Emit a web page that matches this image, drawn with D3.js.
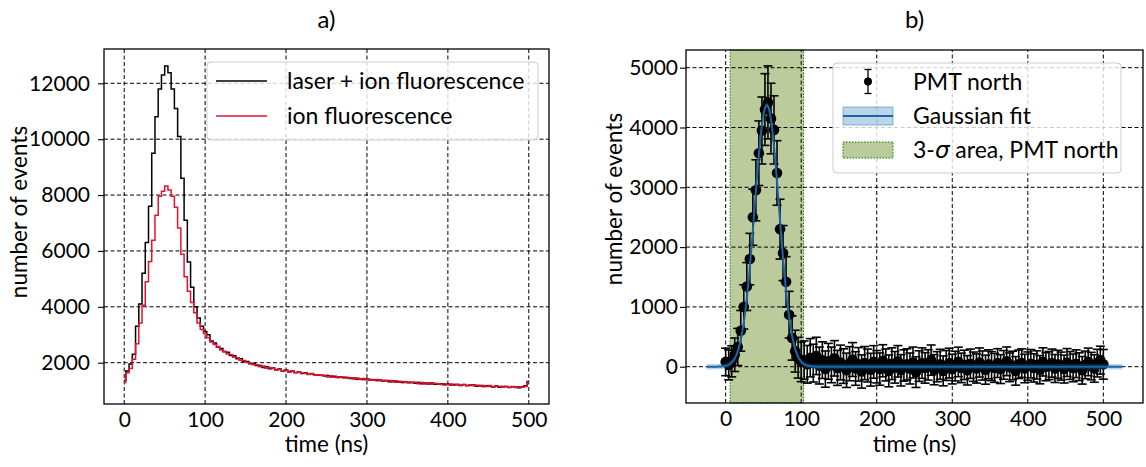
<!DOCTYPE html>
<html>
<head>
<meta charset="utf-8">
<script src="https://cdn.jsdelivr.net/npm/d3@7"></script>
<style>
  body { margin: 0; background: #fff; }
</style>
</head>
<body>
<svg id="fig" width="1146" height="467"></svg>
<script>
// bin centres, 4 ns apart, 0 .. 500 ns
var time = d3.range(0, 501, 4);

// a) photon counts per bin
var laserIon = [1370, 1700, 1950, 2300, 3300, 4100, 5200, 6300, 7600, 9500, 10800, 11800, 12300, 12620, 12380, 11800, 11100, 10100, 8600, 7100, 5600, 4700, 4000, 3600, 3300, 3120, 3000, 2780,
  2700, 2560, 2510, 2390, 2370, 2260, 2250, 2140, 2140, 2050,
  2040, 1960, 1960, 1900, 1900, 1830, 1850, 1780, 1810, 1750,
  1770, 1700, 1740, 1680, 1690, 1650, 1670, 1610, 1640, 1590,
  1600, 1570, 1560, 1550, 1520, 1540, 1500, 1510, 1470, 1490,
  1460, 1470, 1430, 1450, 1410, 1420, 1400, 1420, 1380, 1390,
  1360, 1380, 1340, 1360, 1320, 1340, 1310, 1330, 1290, 1310,
  1280, 1300, 1260, 1290, 1250, 1270, 1240, 1270, 1230, 1240,
  1250, 1210, 1240, 1200, 1220, 1210, 1180, 1220, 1180, 1190,
  1200, 1160, 1180, 1150, 1170, 1160, 1130, 1160, 1120, 1150,
  1140, 1110, 1140, 1130, 1100, 1140, 1170, 1330];

var ionOnly = [1290, 1640, 1790, 2120, 2680, 3420, 4060, 4900, 5620, 6380, 7280, 7960, 8140, 8320, 8180, 7960, 7560, 6820, 5880, 5080, 4560, 4150, 3790, 3420, 3190, 3040, 2890, 2740,
  2650, 2580, 2450, 2410, 2310, 2290, 2190, 2180, 2090, 2080,
  2010, 1990, 1930, 1930, 1850, 1880, 1800, 1830, 1790, 1740,
  1760, 1710, 1730, 1660, 1700, 1640, 1660, 1630, 1620, 1580,
  1610, 1560, 1570, 1540, 1550, 1490, 1530, 1480, 1500, 1470,
  1490, 1440, 1460, 1420, 1450, 1400, 1430, 1390, 1410, 1370,
  1400, 1350, 1370, 1340, 1360, 1310, 1350, 1300, 1330, 1290,
  1310, 1280, 1300, 1250, 1290, 1240, 1280, 1230, 1260, 1250,
  1220, 1250, 1210, 1240, 1190, 1230, 1200, 1210, 1170, 1210,
  1170, 1190, 1160, 1180, 1150, 1180, 1140, 1170, 1150, 1130,
  1160, 1120, 1150, 1110, 1140, 1120, 1150, 1300];

// b) PMT north, laser part only, with errors
var pmtNorth = [80, 30, 90, 200, 330, 600, 1000, 1340, 1800, 2500, 2950, 3570, 3950, 4300, 4420, 4150, 3960, 3240, 2300, 1900, 1420, 870, 480, 260, 150, 80, 110, 40,
  150, 60, 180, 20, 110, -40, 90, 30, 140, -20,
  70, 10, -60, 50, 120, -30, 40, -80, 60, 20,
  -50, 80, 0, -40, 100, 30, -70, 50, -10, 90,
  -60, 20, 40, -30, 70, -90, 10, 60, -20, 30,
  110, -50, 0, 40, -70, 20, 60, -40, 10, 80,
  -20, 30, -60, 50, 0, -30, 70, 20, -50, 40,
  10, -20, 60, -40, 30, 90, -10, 20, -70, 40,
  60, -30, 10, 50, -20, 30, -50, 80, 0, 20,
  60, -30, 40, 10, -40, 70, 20, -20, 50, 0,
  -60, 30, 80, 10, -30, 60, 110, 40];

var pmtErr = [230, 250, 260, 280, 310, 340, 370, 400, 430, 470, 510, 540, 560, 600, 610, 590, 570, 540, 500, 460, 420, 390, 370, 350, 340, 330, 320, 315,
  320, 316, 312, 309, 306, 303, 300, 298, 296, 293,
  291, 289, 287, 285, 283, 281, 280, 278, 277, 275,
  274, 272, 271, 270, 268, 267, 266, 265, 264, 263,
  262, 261, 260, 259, 258, 257, 256, 255, 255, 254,
  253, 252, 252, 251, 250, 250, 249, 248, 248, 247,
  247, 246, 246, 245, 245, 244, 244, 243, 243, 242,
  242, 242, 241, 241, 240, 240, 240, 239, 239, 238,
  238, 238, 237, 237, 237, 236, 236, 236, 235, 235,
  235, 234, 234, 234, 233, 233, 233, 232, 232, 232,
  231, 231, 231, 230, 230, 231, 233, 248];

// gaussian fit result and the 3-sigma window
var fitAmp = 4376, fitMu = 54.5, fitSigma = 16.2;
var fitRange = [-25, 525];
var sigmaArea = [5.9, 103.1];

var xTicks = [0, 100, 200, 300, 400, 500];
var yTicksA = [2000, 4000, 6000, 8000, 10000, 12000];
var yTicksB = [0, 1000, 2000, 3000, 4000, 5000];

var font = 'Lato, "Open Sans", sans-serif';
var svg = d3.select('#fig');

function grid(g, x, y) {
  var y0 = y.range()[0], y1 = y.range()[1], x0 = x.range()[0], x1 = x.range()[1];
  g.append('g').selectAll('line').data(x.ticksUsed).join('line')
    .attr('x1', d => x(d)).attr('x2', d => x(d)).attr('y1', y0).attr('y2', y1);
  g.append('g').selectAll('line').data(y.ticksUsed).join('line')
    .attr('y1', d => y(d)).attr('y2', d => y(d)).attr('x1', x0).attr('x2', x1);
  g.selectAll('line').attr('stroke', '#000').attr('stroke-width', 1).attr('stroke-dasharray', '4,2.5');
}

function axes(g, x, y, yPad) {
  var ax = g.append('g').attr('transform', 'translate(0,' + y.range()[0] + ')')
    .call(d3.axisBottom(x).tickValues(x.ticksUsed).tickSize(0).tickPadding(8).tickFormat(d3.format('d')));
  var ay = g.append('g').attr('transform', 'translate(' + x.range()[0] + ',0)')
    .call(d3.axisLeft(y).tickValues(y.ticksUsed).tickSize(6).tickPadding(yPad).tickFormat(d3.format('d')));
  [ax, ay].forEach(function(a) {
    a.select('.domain').remove();
    a.attr('font-family', font).attr('font-size', 21);
    a.selectAll('text').attr('fill', '#000');
    a.selectAll('line').attr('stroke', '#000').attr('stroke-width', 1.1);
  });
  g.append('rect')
    .attr('x', x.range()[0]).attr('y', y.range()[1])
    .attr('width', x.range()[1] - x.range()[0]).attr('height', y.range()[0] - y.range()[1])
    .attr('fill', 'none').attr('stroke', '#000').attr('stroke-width', 1.3);
}

function labels(g, x, title, ylabX, ylabY) {
  var cx = (x.range()[0] + x.range()[1]) / 2;
  g.append('text').attr('x', cx).attr('y', 28).attr('text-anchor', 'middle')
    .attr('font-family', font).attr('font-size', 24).text(title);
  g.append('text').attr('x', cx).attr('y', 452).attr('text-anchor', 'middle')
    .attr('font-family', font).attr('font-size', 22.5).text('time (ns)');
  g.append('text').attr('transform', 'translate(' + ylabX + ',' + ylabY + ') rotate(-90)')
    .attr('text-anchor', 'middle').attr('dy', '0.35em')
    .attr('font-family', font).attr('font-size', 22.5).text('number of events');
}

function legendFrame(g, x, y, w, h) {
  g.append('rect').attr('x', x).attr('y', y).attr('width', w).attr('height', h)
    .attr('rx', 4).attr('fill', '#fff').attr('fill-opacity', 0.8)
    .attr('stroke', '#cccccc').attr('stroke-width', 1);
}

// ---------- panel a ----------
var xA = d3.scaleLinear().domain([-25, 525]).range([104, 549]);
var yA = d3.scaleLinear().domain([521, 13228]).range([404, 49]);
xA.ticksUsed = xTicks; yA.ticksUsed = yTicksA;

var gA = svg.append('g');
gA.append('clipPath').attr('id', 'clipA').append('rect')
  .attr('x', 104).attr('y', 49).attr('width', 445).attr('height', 355);
grid(gA.append('g'), xA, yA);

var stepA = d3.line().x((d, i) => xA(time[i])).y(d => yA(d)).curve(d3.curveStep);
var plotA = gA.append('g').attr('clip-path', 'url(#clipA)');
plotA.append('path').attr('d', stepA(laserIon)).attr('fill', 'none')
  .attr('stroke', '#000').attr('stroke-width', 1.5);
plotA.append('path').attr('d', stepA(ionOnly)).attr('fill', 'none')
  .attr('stroke', '#e8112d').attr('stroke-width', 1.5);

axes(gA, xA, yA, 8);
labels(gA, xA, 'a)', 19, 212);

legendFrame(gA, 207, 62, 331, 78);
[['laser + ion fluorescence', '#000', 81], ['ion fluorescence', '#e8112d', 116]].forEach(function(e) {
  gA.append('line').attr('x1', 216).attr('x2', 267).attr('y1', e[2]).attr('y2', e[2])
    .attr('stroke', e[1]).attr('stroke-width', 1.5);
  gA.append('text').attr('x', 287).attr('y', e[2]).attr('dy', '0.35em')
    .attr('font-family', font).attr('font-size', 23).text(e[0]);
});

// ---------- panel b ----------
var xB = d3.scaleLinear().domain([-52.5, 552.5]).range([686, 1143]);
var yB = d3.scaleLinear().domain([-607, 5296]).range([403, 50]);
xB.ticksUsed = xTicks; yB.ticksUsed = yTicksB;

var gB = svg.append('g');
gB.append('clipPath').attr('id', 'clipB').append('rect')
  .attr('x', 686).attr('y', 50).attr('width', 457).attr('height', 353);

var bandColor = '#bccb9c';
gB.append('rect').attr('x', xB(sigmaArea[0])).attr('width', xB(sigmaArea[1]) - xB(sigmaArea[0]))
  .attr('y', 50).attr('height', 353).attr('fill', bandColor)
  .attr('stroke', '#008000').attr('stroke-width', 1).attr('stroke-dasharray', '1.5,1.5');

grid(gB.append('g'), xB, yB);

var plotB = gB.append('g').attr('clip-path', 'url(#clipB)');
var pts = time.map((t, i) => ({t: t, v: pmtNorth[i], e: pmtErr[i]}));
var eb = plotB.append('g').attr('stroke', '#000').attr('stroke-width', 1.6);
eb.selectAll('line.bar').data(pts).join('line').attr('class', 'bar')
  .attr('x1', d => xB(d.t)).attr('x2', d => xB(d.t))
  .attr('y1', d => yB(d.v - d.e)).attr('y2', d => yB(d.v + d.e));
eb.selectAll('line.capT').data(pts).join('line').attr('class', 'capT')
  .attr('x1', d => xB(d.t) - 4.5).attr('x2', d => xB(d.t) + 4.5)
  .attr('y1', d => yB(d.v + d.e)).attr('y2', d => yB(d.v + d.e));
eb.selectAll('line.capB').data(pts).join('line').attr('class', 'capB')
  .attr('x1', d => xB(d.t) - 4.5).attr('x2', d => xB(d.t) + 4.5)
  .attr('y1', d => yB(d.v - d.e)).attr('y2', d => yB(d.v - d.e));
plotB.append('g').selectAll('circle').data(pts).join('circle')
  .attr('cx', d => xB(d.t)).attr('cy', d => yB(d.v)).attr('r', 5.3).attr('fill', '#000');

// fitted gaussian drawn from its parameters
var fitT = d3.range(fitRange[0], fitRange[1] + 0.5, 0.5);
var gauss = t => fitAmp * Math.exp(-(t - fitMu) * (t - fitMu) / (2 * fitSigma * fitSigma));
plotB.append('path')
  .attr('d', d3.area().x(t => xB(t)).y0(t => yB(gauss(t) - 45)).y1(t => yB(gauss(t) + 45))(fitT))
  .attr('fill', 'rgba(31,119,180,0.3)');
plotB.append('path')
  .attr('d', d3.line().x(t => xB(t)).y(t => yB(gauss(t)))(fitT))
  .attr('fill', 'none').attr('stroke', '#1f63aa').attr('stroke-width', 2);

axes(gB, xB, yB, 2);
labels(gB, xB, 'b)', 614, 199);

legendFrame(gB, 833, 63, 288, 110);
// errorbar handle
var hx = 868;
gB.append('line').attr('x1', hx).attr('x2', hx).attr('y1', 69.5).attr('y2', 93.5).attr('stroke', '#000').attr('stroke-width', 1.3);
[69.5, 93.5].forEach(function(cy) {
  gB.append('line').attr('x1', hx - 3.5).attr('x2', hx + 3.5).attr('y1', cy).attr('y2', cy).attr('stroke', '#000').attr('stroke-width', 1.3);
});
gB.append('circle').attr('cx', hx).attr('cy', 81.5).attr('r', 4).attr('fill', '#000');
// fit handle
gB.append('rect').attr('x', 843).attr('y', 107).attr('width', 50).attr('height', 18)
  .attr('fill', 'rgba(31,119,180,0.3)').attr('stroke', 'rgba(31,119,180,0.5)');
gB.append('line').attr('x1', 843).attr('x2', 893).attr('y1', 116).attr('y2', 116)
  .attr('stroke', '#1f63aa').attr('stroke-width', 2);
// 3-sigma handle
gB.append('rect').attr('x', 843).attr('y', 142).attr('width', 50).attr('height', 16)
  .attr('fill', bandColor).attr('stroke', '#008000').attr('stroke-dasharray', '1.5,1.5');

var legB = gB.append('g').attr('font-family', font).attr('font-size', 23);
legB.append('text').attr('x', 913).attr('y', 81.5).attr('dy', '0.35em').text('PMT north');
legB.append('text').attr('x', 913).attr('y', 116).attr('dy', '0.35em').text('Gaussian fit');
var t3 = legB.append('text').attr('x', 913).attr('y', 150).attr('dy', '0.35em');
t3.append('tspan').text('3-');
t3.append('tspan').attr('font-style', 'italic').attr('font-family', '"DejaVu Sans", sans-serif').text('σ');
t3.append('tspan').text(' area, PMT north');
</script>
</body>
</html>
